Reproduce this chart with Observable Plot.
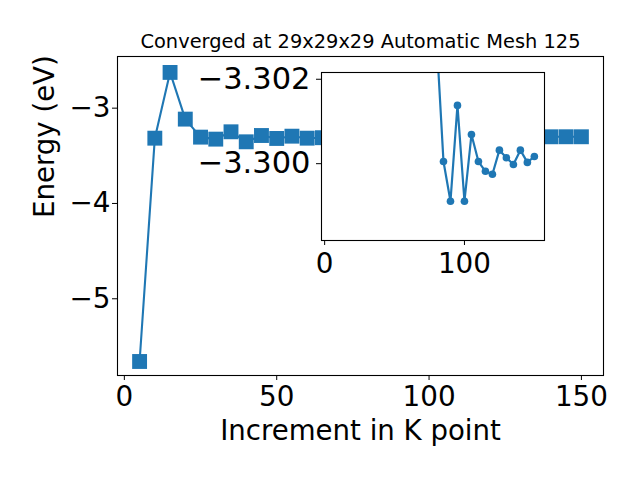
<!DOCTYPE html>
<html>
<head>
<meta charset="utf-8">
<script src="https://cdn.jsdelivr.net/npm/d3@7"></script>
<script src="https://cdn.jsdelivr.net/npm/@observablehq/plot@0.6"></script>
<style>
  body { margin: 0; background: white; }
  #wrap { position: relative; width: 640px; height: 480px; font-family: "DejaVu Sans", sans-serif; }
  #wrap svg { position: absolute; }
</style>
</head>
<body>
<div id="wrap"></div>
<script>
const titleText = "Converged at 29x29x29 Automatic Mesh 125";
const xLabel = "Increment in K point";
const yLabel = "Energy (eV)";
const kpoints = [5,10,15,20,25,30,35,40,45,50,55,60,65,70,75,80,85,90,95,100,105,110,115,120,125,130,135,140,145,150];
const energies = [-5.658,-3.315,-2.625,-3.115,-3.304,-3.325,-3.248,-3.353,-3.287,-3.318,-3.294,-3.315,-3.310,-3.306,-3.305,-3.3030,
  -3.30005,-3.29911,-3.30138,-3.29911,-3.30069,-3.30005,-3.29982,-3.29975,-3.30032,-3.30014,-3.29998,-3.30032,-3.30003,-3.30017];
const mainXTicks = [0,50,100,150];
const mainYTicks = [-5,-4,-3];
const insetXTicks = [0,100];
const insetYTicks = [-3.302,-3.300];
const insetFrom = 80;

const data = kpoints.map((k,i) => ({k, e: energies[i]}));
const insetData = data.filter(d => d.k >= insetFrom);
const blue = "#1f77b4";
const tickFont = 27.8;

const main = Plot.plot({
  width: 640, height: 480,
  marginLeft: 117, marginRight: 37, marginTop: 56, marginBottom: 105,
  style: {fontFamily: "DejaVu Sans, sans-serif", background: "white"},
  x: {domain: [-2.25, 157.25]},
  y: {domain: [-5.805, -2.458]},
  marks: [
    Plot.line(data, {x: "k", y: "e", stroke: blue, strokeWidth: 2.1}),
    Plot.dot(data, {x: "k", y: "e", symbol: "square", r: 8.4, fill: blue, stroke: null}),
    Plot.frame({stroke: "black", strokeWidth: 1.1}),
    Plot.axisX({ticks: mainXTicks, tickFormat: d3.format("d"), tickSize: 5, tickPadding: 6, fontSize: tickFont, label: null}),
    Plot.axisY({ticks: mainYTicks, tickFormat: d3.format("d"), tickSize: 5, tickPadding: 2, fontSize: tickFont, label: null}),
    Plot.text([titleText], {frameAnchor: "top", dy: -15, fontSize: 19.4, lineAnchor: "middle"}),
    Plot.text([xLabel], {frameAnchor: "bottom", dy: 56, fontSize: 27.6, lineAnchor: "middle"}),
    Plot.text([yLabel], {frameAnchor: "left", dx: -72, dy: 2, rotate: -90, fontSize: 27.6, lineAnchor: "middle"})
  ]
});
main.style.left = "0px"; main.style.top = "0px";

const inset = Plot.plot({
  width: 360, height: 235,
  marginLeft: 131, marginRight: 6, marginTop: 17, marginBottom: 50,
  style: {fontFamily: "DejaVu Sans, sans-serif", background: "transparent", overflow: "visible"},
  x: {domain: [-2.25, 157.25]},
  y: {domain: [-3.29818, -3.30216]},
  marks: [
    Plot.frame({fill: "white", stroke: null}),
    Plot.line(insetData, {x: "k", y: "e", stroke: blue, strokeWidth: 2.2, clip: true}),
    Plot.dot(insetData, {x: "k", y: "e", r: 3.8, fill: blue, stroke: null, clip: true}),
    Plot.frame({stroke: "black", strokeWidth: 1.1}),
    Plot.axisX({ticks: insetXTicks, tickFormat: d3.format("d"), tickSize: 5, tickPadding: 8, fontSize: tickFont, label: null}),
    Plot.axisY({ticks: insetYTicks, tickFormat: d3.format(".3f"), tickSize: 5, tickPadding: 6, fontSize: 30.5, label: null})
  ]
});
inset.style.left = "190px"; inset.style.top = "55px";

const wrap = document.getElementById("wrap");
wrap.appendChild(main);
wrap.appendChild(inset);
</script>
</body>
</html>
